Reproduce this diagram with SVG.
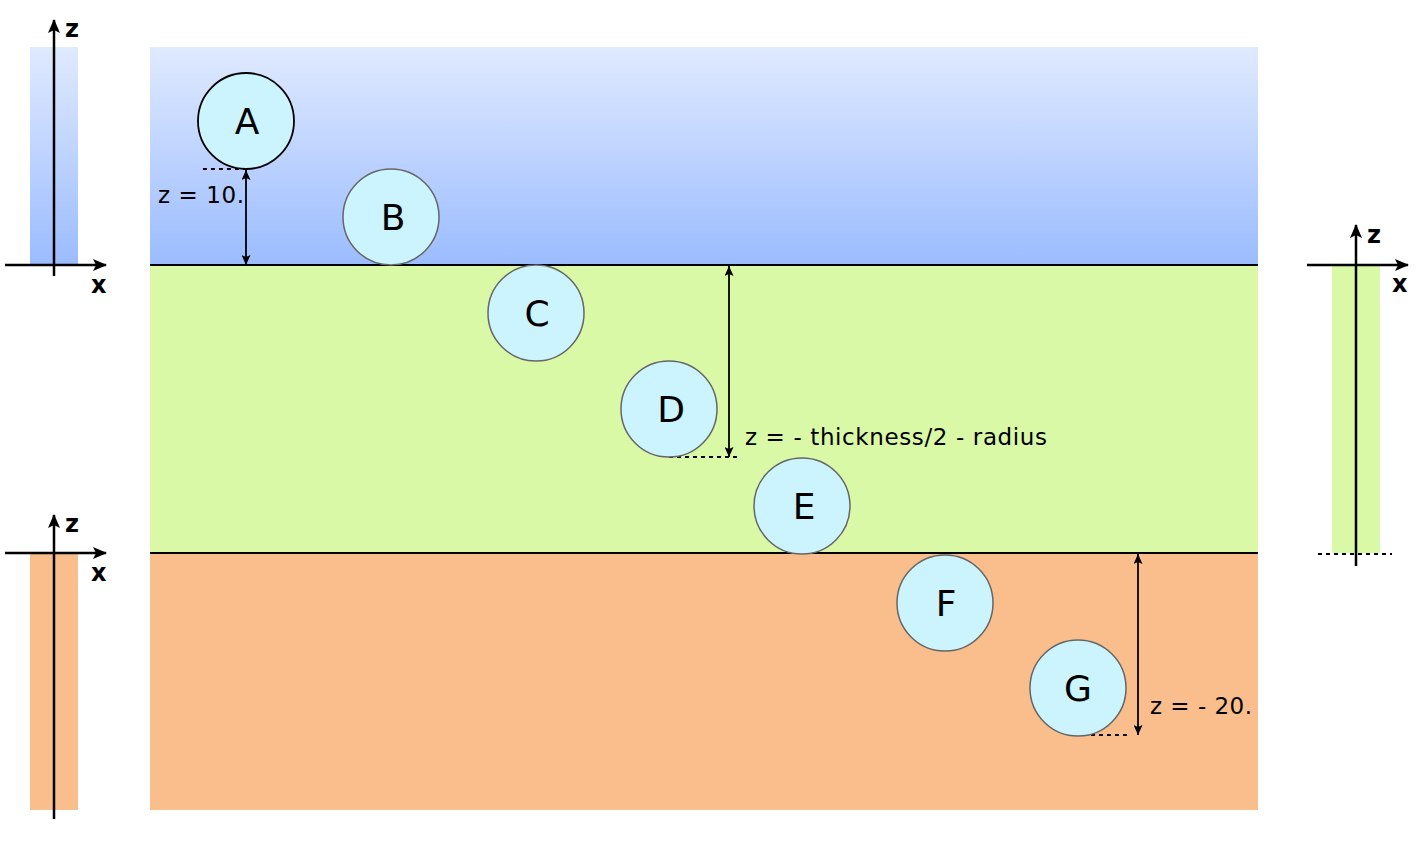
<svg xmlns="http://www.w3.org/2000/svg" width="1417" height="843" viewBox="0 0 1417 843">
<defs>
<linearGradient id="blueG" x1="0" y1="0" x2="0" y2="1">
<stop offset="0" stop-color="#e0eaff"/>
<stop offset="1" stop-color="#9bbcff"/>
</linearGradient>
<marker id="axisHead" viewBox="0 0 14 12" refX="13" refY="6" markerWidth="14" markerHeight="12" markerUnits="userSpaceOnUse" orient="auto">
<path d="M0,0 L14,6 L0,12 L3,6 Z" fill="#000"/>
</marker>
<marker id="dimHead" viewBox="0 0 10 9" refX="10" refY="4.5" markerWidth="10" markerHeight="9" markerUnits="userSpaceOnUse" orient="auto-start-reverse">
<path d="M0,0 L10,4.5 L0,9 L2,4.5 Z" fill="#000"/>
</marker>
</defs>
<style>
.ball{fill:#ccf4ff;stroke:#666;stroke-width:1.5}
.ballA{fill:#ccf4ff;stroke:#000;stroke-width:1.8}
.lbl{font-family:"DejaVu Sans",sans-serif;font-size:36px;fill:#000;text-anchor:middle}
.ann{font-family:"DejaVu Sans",sans-serif;font-size:23px;fill:#000}
.axl{font-family:"DejaVu Sans",sans-serif;font-size:24px;font-weight:bold;fill:#000}
.axis{stroke:#000;stroke-width:2.5;fill:none}
.bound{stroke:#000;stroke-width:2.2;fill:none}
.dim{stroke:#000;stroke-width:1.8;fill:none;marker-start:url(#dimHead);marker-end:url(#dimHead)}
.dot{stroke:#000;stroke-width:2;stroke-dasharray:4,4;fill:none}
</style>
<g id="layers">
<rect x="150" y="47" width="1108" height="218" fill="url(#blueG)"/>
<rect x="150" y="265" width="1108" height="288" fill="#d9f9a6"/>
<rect x="150" y="553" width="1108" height="257" fill="#f9be8c"/>
<line class="bound" x1="150" y1="265" x2="1258" y2="265"/>
<line class="bound" x1="150" y1="553" x2="1258" y2="553"/>
</g>
<g id="axis-top-left">
<rect x="30" y="47" width="48" height="218" fill="url(#blueG)"/>
<line class="axis" x1="54" y1="276" x2="54" y2="20" marker-end="url(#axisHead)"/>
<line class="axis" x1="5" y1="265" x2="106" y2="265" marker-end="url(#axisHead)"/>
<text class="axl" x="65" y="37">z</text>
<text class="axl" x="91" y="293">x</text>
</g>
<g id="axis-bottom-left">
<rect x="30" y="553" width="48" height="257" fill="#f9be8c"/>
<line class="axis" x1="54" y1="819" x2="54" y2="515" marker-end="url(#axisHead)"/>
<line class="axis" x1="5" y1="553" x2="106" y2="553" marker-end="url(#axisHead)"/>
<text class="axl" x="65" y="532">z</text>
<text class="axl" x="91" y="581">x</text>
</g>
<g id="axis-right">
<rect x="1332" y="265" width="48" height="288" fill="#d9f9a6"/>
<line class="axis" x1="1356" y1="566" x2="1356" y2="225" marker-end="url(#axisHead)"/>
<line class="axis" x1="1307" y1="265" x2="1408" y2="265" marker-end="url(#axisHead)"/>
<line class="dot" x1="1318" y1="554" x2="1392" y2="554"/>
<text class="axl" x="1367" y="243">z</text>
<text class="axl" x="1392" y="292">x</text>
</g>
<g id="connectors">
<line class="dot" x1="203" y1="169" x2="246" y2="169"/>
<line class="dim" x1="246" y1="170" x2="246" y2="265"/>
<line class="dot" x1="669" y1="457" x2="741" y2="457"/>
<line class="dim" x1="729" y1="266" x2="729" y2="457"/>
<line class="dot" x1="1083" y1="735" x2="1128" y2="735"/>
<line class="dim" x1="1138" y1="554" x2="1138" y2="735"/>
</g>
<g id="labels">
<text class="ann" x="158" y="203" textLength="86" lengthAdjust="spacing">z = 10.</text>
<text class="ann" x="745" y="445" textLength="302" lengthAdjust="spacing">z = - thickness/2 - radius</text>
<text class="ann" x="1150" y="714" textLength="102" lengthAdjust="spacing">z = - 20.</text>
</g>
<g id="ball-A"><circle class="ballA" cx="246" cy="121" r="48"/><text class="lbl" x="247" y="134">A</text></g>
<g id="ball-B"><circle class="ball" cx="391" cy="217" r="48"/><text class="lbl" x="393" y="230">B</text></g>
<g id="ball-C"><circle class="ball" cx="536" cy="313" r="48"/><text class="lbl" x="537" y="326">C</text></g>
<g id="ball-D"><circle class="ball" cx="669" cy="409" r="48"/><text class="lbl" x="671" y="422">D</text></g>
<g id="ball-E"><circle class="ball" cx="802" cy="506" r="48"/><text class="lbl" x="804" y="519">E</text></g>
<g id="ball-F"><circle class="ball" cx="945" cy="603" r="48"/><text class="lbl" x="946" y="616">F</text></g>
<g id="ball-G"><circle class="ball" cx="1078" cy="688" r="48"/><text class="lbl" x="1078" y="701">G</text></g>
</svg>
